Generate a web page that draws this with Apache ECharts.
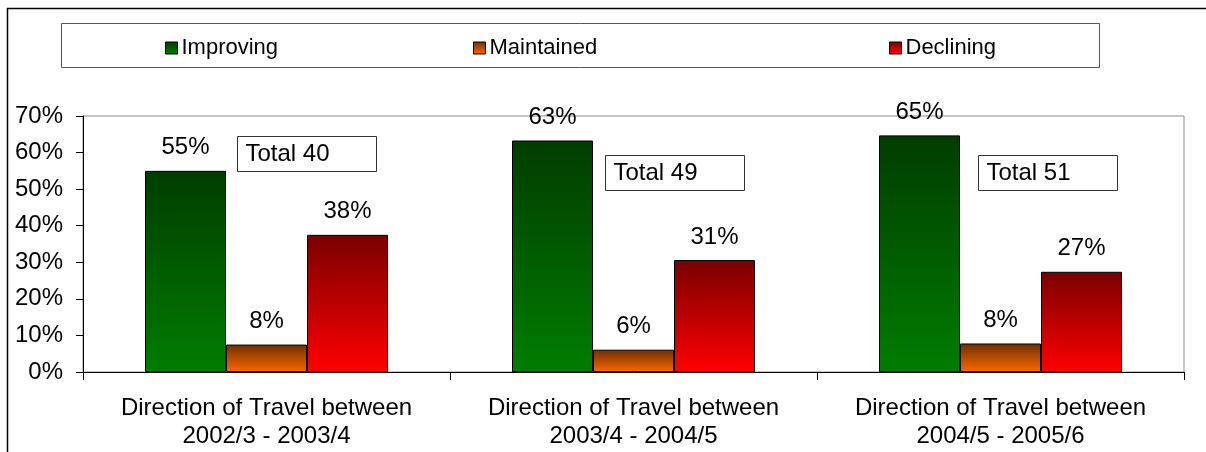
<!DOCTYPE html>
<html>
<head>
<meta charset="utf-8">
<script src="https://cdn.jsdelivr.net/npm/echarts@6/dist/echarts.min.js"></script>
<style>
  html, body { margin: 0; padding: 0; background: #fff; }
  #chart { width: 1206px; height: 452px; }
</style>
</head>
<body>
<div id="chart"></div>
<script>
// data (percent of authorities in each period)
const categories = [
  'Direction of Travel between\n2002/3 - 2003/4',
  'Direction of Travel between\n2003/4 - 2004/5',
  'Direction of Travel between\n2004/5 - 2005/6'
]
const improving = [55.0, 63.3, 64.7]
const maintained = [7.5, 6.1, 7.8]
const declining = [37.5, 30.6, 27.4]
const totals = [40, 49, 51]
const yTicks = [0, 10, 20, 30, 40, 50, 60, 70]

const font = 'Liberation Sans, Arial, sans-serif'

function grad (top, bottom) {
  return new echarts.graphic.LinearGradient(0, 0, 0, 1, [
    { offset: 0, color: top },
    { offset: 1, color: bottom }
  ])
}

const colours = {
  Improving: grad('#003d00', '#007d00'),
  Maintained: grad('#703000', '#ff6600'),
  Declining: grad('#7a0000', '#ff0000')
}

function makeSeries (name, data) {
  return {
    name: name,
    type: 'bar',
    data: data,
    barWidth: 81,
    barGap: '0%',
    itemStyle: { color: colours[name], borderColor: '#000', borderWidth: 1 },
    label: {
      show: true,
      position: 'top',
      distance: 11,
      fontFamily: font,
      fontSize: 24,
      color: '#000',
      formatter: (p) => Math.round(p.value) + '%'
    }
  }
}

function makeLegend (name, left) {
  return {
    data: [name],
    left: left,
    top: 32,
    itemWidth: 12,
    itemHeight: 12,
    itemGap: 0,
    icon: 'rect',
    selectedMode: false,
    textStyle: { fontFamily: font, fontSize: 22, color: '#000', padding: [0, 0, 0, -1] },
    itemStyle: { borderColor: '#000', borderWidth: 1 }
  }
}

var myChart = echarts.init(document.getElementById('chart'))

var option = {
  animation: false,
  backgroundColor: '#fff',
  legend: [
    makeLegend('Improving', 160),
    makeLegend('Maintained', 468),
    makeLegend('Declining', 884)
  ],
  grid: {
    left: 83,
    right: 22,
    top: 116,
    bottom: 80,
    show: true,
    borderColor: '#8c8c8c',
    borderWidth: 1
  },
  xAxis: {
    type: 'category',
    data: categories,
    axisLine: { lineStyle: { color: '#000', width: 1 } },
    axisTick: { show: true, length: 8, lineStyle: { color: '#000' } },
    axisLabel: {
      interval: 0,
      fontFamily: font,
      fontSize: 24,
      color: '#000',
      lineHeight: 28,
      margin: 22
    }
  },
  yAxis: {
    type: 'value',
    min: yTicks[0],
    max: yTicks[yTicks.length - 1],
    interval: 10,
    axisLine: { show: true, lineStyle: { color: '#000', width: 1 } },
    axisTick: { show: true, length: 7, lineStyle: { color: '#000' } },
    splitLine: { show: false },
    axisLabel: {
      fontFamily: font,
      fontSize: 24,
      color: '#000',
      margin: 20,
      formatter: '{value}%'
    }
  },
  series: [
    makeSeries('Improving', improving),
    makeSeries('Maintained', maintained),
    makeSeries('Declining', declining)
  ]
}

myChart.setOption(option)

// frame, legend box and the "Total" boxes
var boxOffsets = [[-30, 64.5], [-29, 59.3], [-23, 59.3]]
var graphics = [
  {
    type: 'rect',
    shape: { x: 7.5, y: 8.5, width: 1400, height: 600 },
    style: { fill: null, stroke: '#000', lineWidth: 1.5 },
    z: 0
  },
  {
    type: 'rect',
    shape: { x: 61.5, y: 23.5, width: 1038, height: 44 },
    style: { fill: null, stroke: '#555', lineWidth: 1 },
    z: 0
  }
]
totals.forEach(function (t, i) {
  var pt = myChart.convertToPixel({ gridIndex: 0 }, [i, boxOffsets[i][1]])
  var x = Math.round(pt[0] + boxOffsets[i][0]) + 0.5
  var y = Math.round(pt[1]) + 0.5
  graphics.push({
    type: 'rect',
    shape: { x: x, y: y, width: 139, height: 35 },
    style: { fill: '#fff', stroke: '#333', lineWidth: 1 },
    z: 10
  })
  graphics.push({
    type: 'text',
    x: x + 8,
    y: y + 18,
    style: {
      text: 'Total ' + t,
      font: '24px ' + font,
      fill: '#000',
      textVerticalAlign: 'middle',
      verticalAlign: 'middle'
    },
    z: 11
  })
})
myChart.setOption({ graphic: graphics })
</script>
</body>
</html>
